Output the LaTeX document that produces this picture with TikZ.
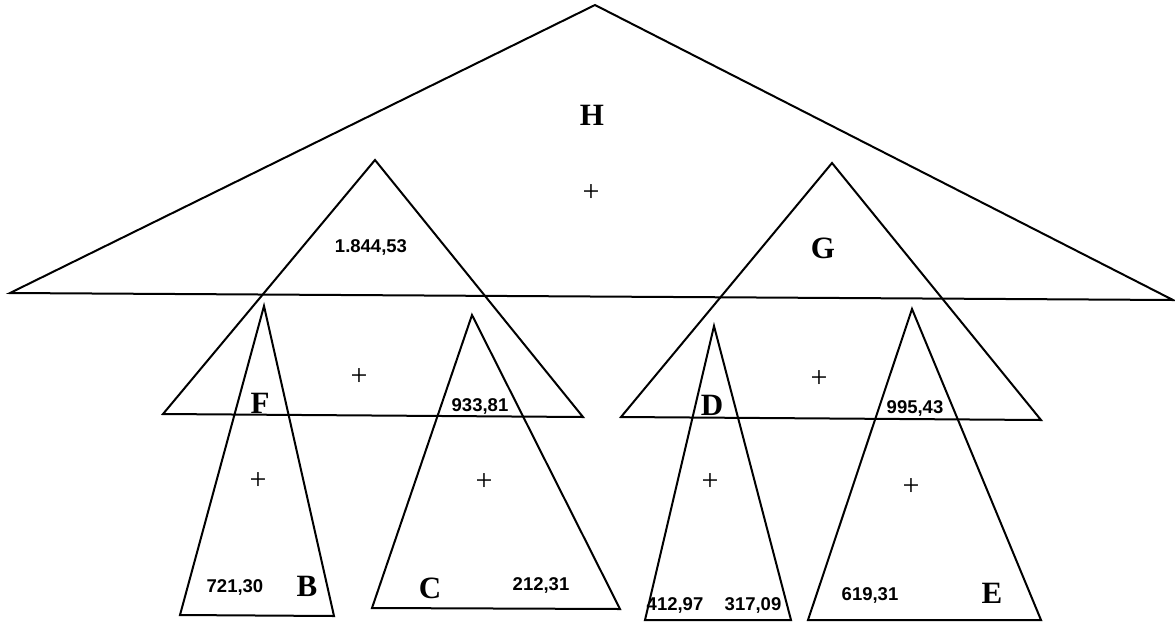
\documentclass[tikz,border=0pt]{standalone}
\usepackage{fontspec}
\setmainfont{Liberation Serif}
\setsansfont{Liberation Sans}

\begin{document}
\begin{tikzpicture}[
  x=1pt, y=-1pt,
  tri/.style={draw, line width=2pt, line join=miter},
  letter/.style={font=\fontsize{31}{33}\selectfont\rmfamily\bfseries, inner sep=0pt},
  value/.style={font=\fontsize{18.5}{20}\selectfont\sffamily\bfseries, inner sep=0pt},
  plus/.style={font=\fontsize{30}{32}\selectfont\rmfamily, inner sep=0pt},
]
  \useasboundingbox (0,0) rectangle (1175,622);

  % ===== Top triangle H =====
  \draw[tri] (595,5) -- (10,293) -- (1173,300) -- cycle;
  \node[letter] (h) at (592,115) {H};
  \node[plus] (hplus) at (591,193) {+};

  % ===== Middle triangles F and G =====
  \draw[tri] (375,160) -- (163,414) -- (583,417) -- cycle;
  \draw[tri] (832,163) -- (621,417) -- (1041,420) -- cycle;
  \node[value] (vf) at (371,247) {1.844,53};
  \node[letter] (g) at (823,248) {G};

  \node[letter] (f) at (260,403) {F};
  \node[plus] (fplus) at (359,377) {+};
  \node[value] (vc) at (480,406) {933,81};

  \node[letter] (d) at (712,405) {D};
  \node[plus] (gplus) at (819,379) {+};
  \node[value] (vg) at (915,408) {995,43};

  % ===== Bottom triangles =====
  \draw[tri] (264,306) -- (180,615) -- (334,616) -- cycle;
  \draw[tri] (472,315) -- (372,608) -- (620,609) -- cycle;
  \draw[tri] (714,326) -- (645,620) -- (791,620) -- cycle;
  \draw[tri] (912,309) -- (808,620) -- (1041,620) -- cycle;

  \node[plus] (bplus) at (258,481) {+};
  \node[plus] (cplus) at (484,482) {+};
  \node[plus] (dplus) at (710,482) {+};
  \node[plus] (eplus) at (911,487) {+};

  \node[value] (vb) at (235,587) {721,30};
  \node[letter] (b) at (307,586) {B};
  \node[letter] (c) at (430,588) {C};
  \node[value] (vcc) at (541,585) {212,31};
  \node[value] (vd) at (675,605) {412,97};
  \node[value] (vdd) at (753,605) {317,09};
  \node[value] (ve) at (870,595) {619,31};
  \node[letter] (e) at (992,593) {E};

\end{tikzpicture}
\end{document}
